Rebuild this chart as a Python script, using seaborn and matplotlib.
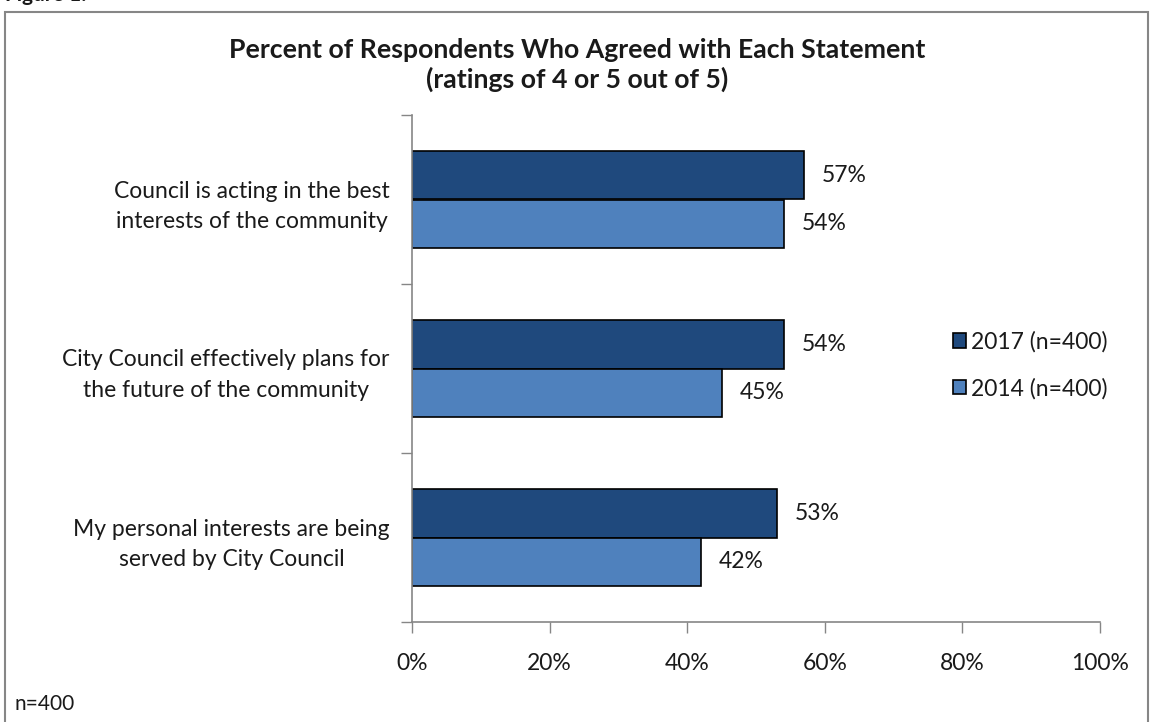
import matplotlib
matplotlib.use("Agg")
import matplotlib.pyplot as plt
from matplotlib.patches import Rectangle
from matplotlib.ticker import FixedLocator, PercentFormatter
import seaborn as sns
import pandas as pd

# Survey statements and agreement shares (percent)
statements = [
    "Council is acting in the best\ninterests of the community",
    "City Council effectively plans for\nthe future of the community",
    "My personal interests are being\nserved by City Council",
]
years = ["2017 (n=400)", "2014 (n=400)"]
pct_2017 = [57, 54, 53]
pct_2014 = [54, 45, 42]

df = pd.DataFrame({
    "statement": statements * 2,
    "year": [years[0]] * 3 + [years[1]] * 3,
    "pct": pct_2017 + pct_2014,
})

sns.set_theme(style="white")
plt.rcParams["font.family"] = ["Lato", "DejaVu Sans"]

FS = 16.5
TXT = "#1a1a1a"

fig = plt.figure(figsize=(11.51, 7.22), dpi=100)
ax = fig.add_axes([412 / 1151, 1 - 622 / 722, 688 / 1151, 507 / 722])

palette = {years[0]: "#1F497D", years[1]: "#4F81BD"}
sns.barplot(data=df, x="pct", y="statement", hue="year", order=statements,
            hue_order=years, palette=palette, width=0.574, orient="h",
            edgecolor="black", linewidth=1.2, saturation=1, ax=ax, legend=True)

for cont in ax.containers:
    ax.bar_label(cont, fmt="%d%%", padding=13, fontsize=FS, color=TXT)

ax.set_xlim(0, 100)
ax.set_ylim(2.5, -0.5)
ax.xaxis.set_major_locator(FixedLocator([0, 20, 40, 60, 80, 100]))
ax.xaxis.set_major_formatter(PercentFormatter(decimals=0))
ax.yaxis.set_major_locator(FixedLocator([-0.5, 0.5, 1.5, 2.5]))
ax.yaxis.set_minor_locator(FixedLocator([0, 1, 2]))
ax.set_yticklabels([], minor=False)
ax.set_yticklabels(statements, minor=True, fontsize=FS, color=TXT,
                   ha="right", multialignment="center", linespacing=1.55)
ax.tick_params(axis="y", which="minor", length=0, pad=16)
ax.tick_params(axis="y", which="major", length=8, width=1, color="#868686",
               direction="out", left=True)
ax.tick_params(axis="x", length=8, width=1, color="#868686", direction="out",
               bottom=True, labelsize=FS, labelcolor=TXT, pad=14)
ax.set_xlabel("")
ax.set_ylabel("")
for side in ["top", "right"]:
    ax.spines[side].set_visible(False)
for side in ["left", "bottom"]:
    ax.spines[side].set_color("#868686")
    ax.spines[side].set_linewidth(1.2)

handles, labels = ax.get_legend_handles_labels()
ax.get_legend().remove()
fig.legend(handles, labels, loc="center left",
           bbox_to_anchor=(932 / 1151, 1 - 365 / 722), frameon=False,
           fontsize=FS, handlelength=0.6, handleheight=0.6,
           handletextpad=0.2, labelspacing=1.1, labelcolor=TXT)

fig.suptitle("Percent of Respondents Who Agreed with Each Statement\n(ratings of 4 or 5 out of 5)",
             x=577 / 1151, y=1 - 38 / 722, fontsize=19.2, fontweight="bold",
             color=TXT, va="top", linespacing=1.2)

# Outer frame around the chart area
fig.patches.append(Rectangle((5 / 1151, -0.05), 1143 / 1151, 1.05 - 12 / 722,
                             transform=fig.transFigure, fill=False,
                             edgecolor="#868686", linewidth=1.5))
fig.text(5 / 1151, 1 + 5 / 722, "Figure 1:", fontsize=15, fontweight="bold",
         va="center", ha="left", color=TXT)
fig.text(14 / 1151, 1 - 704 / 722, "n=400", fontsize=15, va="center",
         ha="left", color=TXT)

fig.savefig("out.png", dpi=100)
